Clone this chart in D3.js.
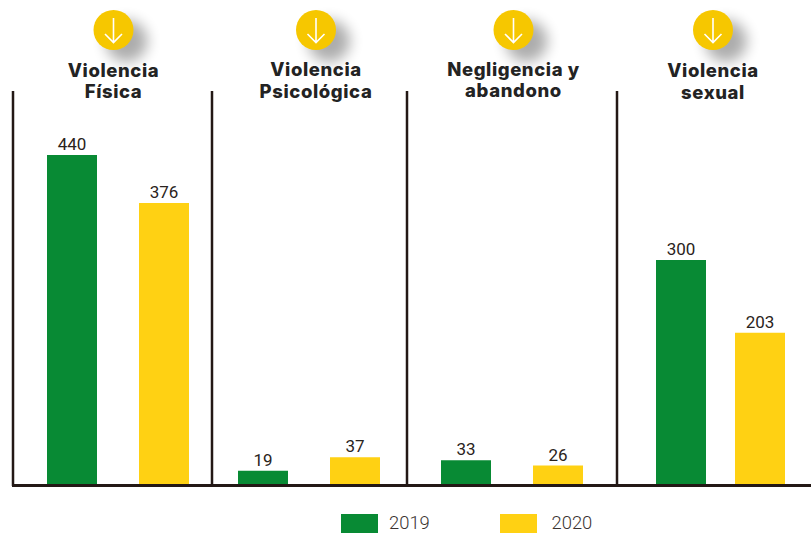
<!DOCTYPE html>
<html>
<head>
<meta charset="utf-8">
<script src="https://cdn.jsdelivr.net/npm/d3@7"></script>
<style>
	body { margin: 0; background: #fff; }
	svg { display: block; }
	.title { font-family: Inter, sans-serif; font-weight: 800; font-size: 18.5px; fill: #232323; text-anchor: middle; letter-spacing: 0.6px; }
	.value { font-family: Roboto, sans-serif; font-size: 17px; fill: #2a2320; text-anchor: middle; }
	.legend { font-family: Roboto, sans-serif; font-weight: 300; font-size: 18.4px; fill: #3a3331; }
</style>
</head>
<body>
<div class="canva"></div>
<script>
const categories = ["Violencia Física", "Violencia Psicológica", "Negligencia y abandono", "Violencia sexual"];
const titleLines = [["Violencia", "Física"], ["Violencia", "Psicológica"], ["Negligencia y", "abandono"], ["Violencia", "sexual"]];
const years = ["2019", "2020"];
const values2019 = [440, 19, 33, 300];
const values2020 = [376, 37, 26, 203];

const width = 811;
const height = 533;
const baseY = 485;
const barW = 50;

// the panels are not evenly spaced in the original
const panelEdges = [13, 212, 407, 617];
const barRanges = [[47, 189], [238, 380], [441, 583], [656, 785]];
const iconX = [113.5, 316, 513.5, 713];
const titleY = [[77, 98], [76, 98], [76, 97], [77, 99]];

const colors = d3.scaleOrdinal(years, ["#088a34", "#ffd113"]);
const y = d3.scaleLinear().domain([0, 440]).range([baseY, 155]);

const svg = d3.select(".canva")
	.append("svg")
	.attr("width", width)
	.attr("height", height);

const blur = svg.append("defs").append("filter")
	.attr("id", "soft")
	.attr("x", "-60%").attr("y", "-60%")
	.attr("width", "220%").attr("height", "220%");
blur.append("feGaussianBlur").attr("stdDeviation", 7);

const panels = svg.selectAll("g.panel")
	.data(categories)
	.enter()
	.append("g")
	.attr("class", "panel");

panels.each(function (cat, i) {
	const g = d3.select(this);
	const range = barRanges[i];
	const x = d3.scaleBand()
		.domain(years)
		.range(range)
		.paddingInner(1 - barW / (range[1] - range[0] - barW));
	const rows = [
		{ year: years[0], value: values2019[i] },
		{ year: years[1], value: values2020[i] }
	];

	g.selectAll("rect")
		.data(rows)
		.enter()
		.append("rect")
		.attr("x", (d) => x(d.year))
		.attr("y", (d) => y(d.value))
		.attr("width", x.bandwidth())
		.attr("height", (d) => baseY - y(d.value))
		.attr("fill", (d) => colors(d.year));

	g.selectAll("text.value")
		.data(rows)
		.enter()
		.append("text")
		.attr("class", "value")
		.attr("x", (d) => x(d.year) + x.bandwidth() / 2)
		.attr("y", (d) => y(d.value) - 5)
		.text((d) => d.value);

	// icon: shadow, disc, arrow
	const cx = iconX[i];
	g.append("circle")
		.attr("cx", cx + 13).attr("cy", 41).attr("r", 21)
		.attr("fill", "#000").attr("opacity", 0.32)
		.attr("filter", "url(#soft)");
	g.append("circle")
		.attr("cx", cx).attr("cy", 30).attr("r", 20)
		.attr("fill", "#f6c700");
	g.append("path")
		.attr("d", d3.line()([[cx, 18], [cx, 42.5]]) + d3.line()([[cx - 8.5, 34], [cx, 42.5], [cx + 8.5, 34]]))
		.attr("fill", "none")
		.attr("stroke", "#fff")
		.attr("stroke-width", 1.6);

	g.selectAll("text.title")
		.data(titleLines[i])
		.enter()
		.append("text")
		.attr("class", "title")
		.attr("x", cx)
		.attr("y", (d, k) => titleY[i][k])
		.text((d) => d);
});

// frame lines
svg.selectAll("line.sep")
	.data(panelEdges)
	.enter()
	.append("line")
	.attr("class", "sep")
	.attr("x1", (d) => d).attr("x2", (d) => d)
	.attr("y1", 91).attr("y2", 486)
	.attr("stroke", "#231815")
	.attr("stroke-width", 2.5);

svg.append("line")
	.attr("x1", panelEdges[0] - 1).attr("x2", width)
	.attr("y1", 485.5).attr("y2", 485.5)
	.attr("stroke", "#231815")
	.attr("stroke-width", 2.8);

// legend
const legendX = d3.scaleOrdinal(years, [341, 500]);
const legendTextX = d3.scaleOrdinal(years, [389, 551.5]);

svg.selectAll("rect.key")
	.data(years)
	.enter()
	.append("rect")
	.attr("class", "key")
	.attr("x", (d) => legendX(d))
	.attr("y", 514)
	.attr("width", 37)
	.attr("height", 19)
	.attr("fill", (d) => colors(d));

svg.selectAll("text.legend")
	.data(years)
	.enter()
	.append("text")
	.attr("class", "legend")
	.attr("x", (d) => legendTextX(d))
	.attr("y", 528.8)
	.text((d) => d);
</script>
</body>
</html>
